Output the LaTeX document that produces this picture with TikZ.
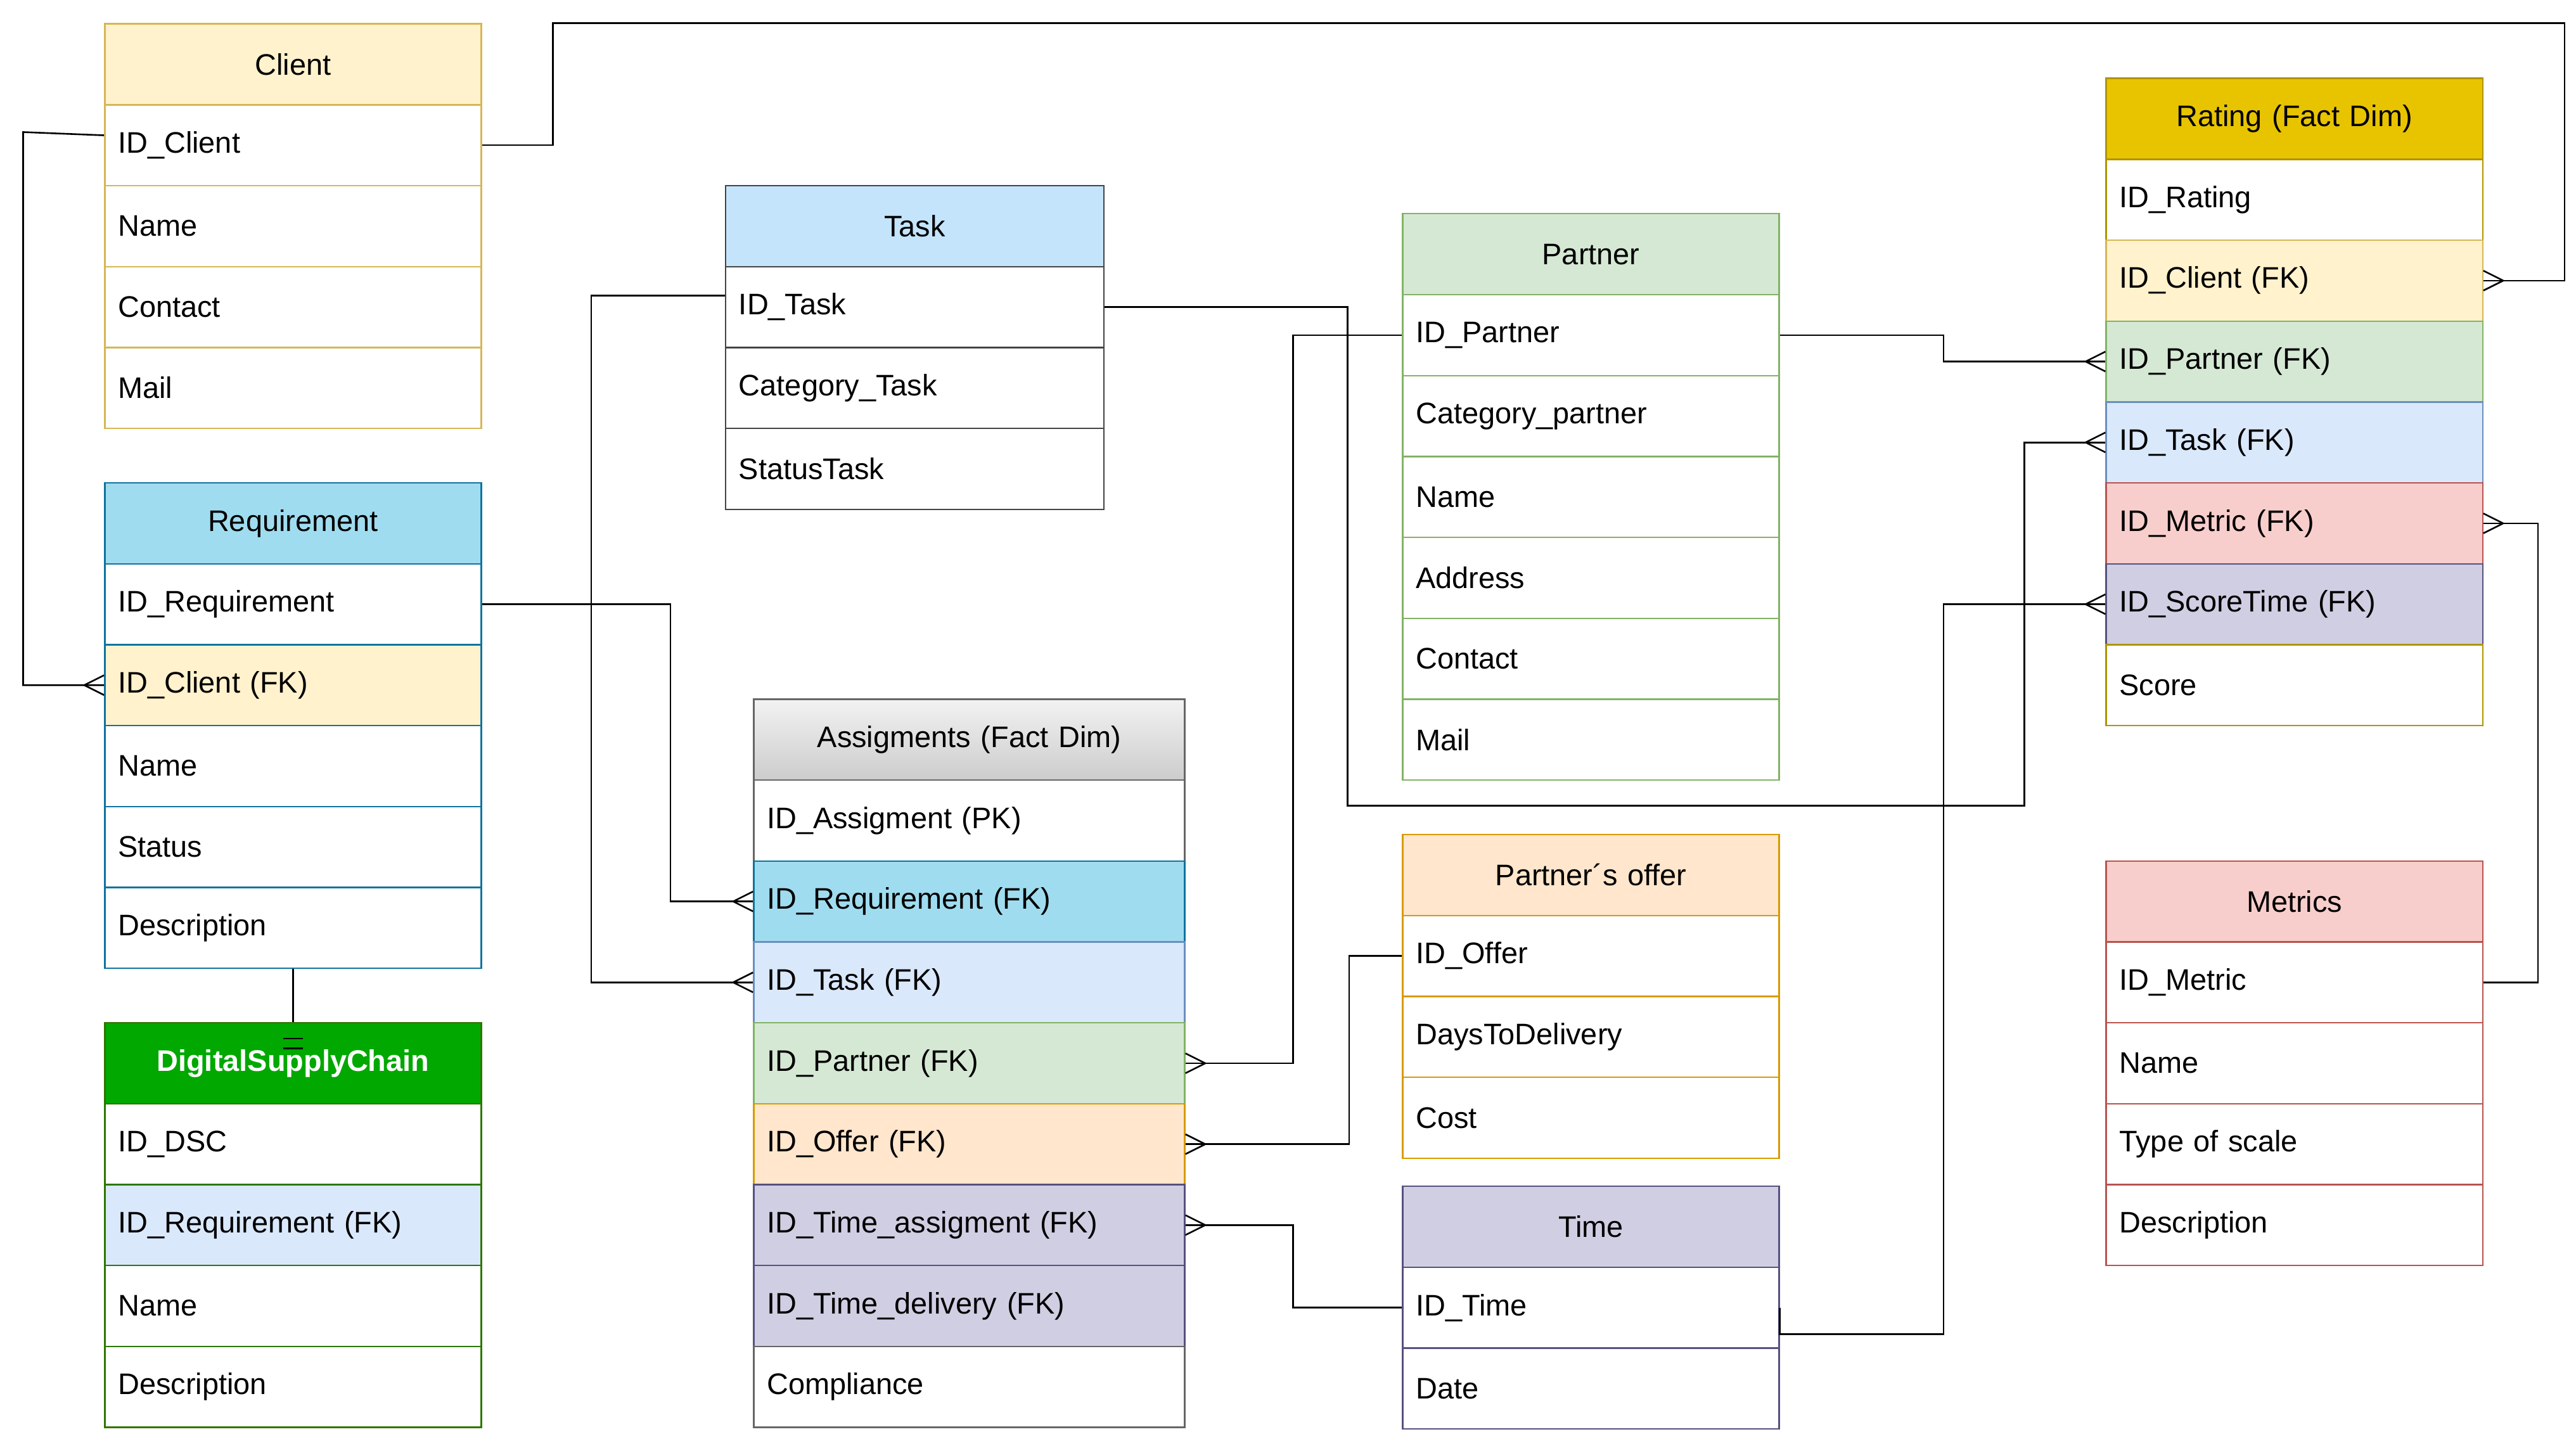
\documentclass[tikz,border=0pt]{standalone}
\usepackage{fontspec}
\setmainfont{Liberation Sans}
\begin{document}
\begin{tikzpicture}[x=1pt,y=-1pt,
  cell/.style={anchor=north west,minimum height=49pt,inner xsep=8pt,text width=#1,align=left,line width=0.9pt,font=\fontsize{18}{20}\selectfont},
  head/.style={align=center},
  conn/.style={line width=1pt,black}]
\definecolor{yf}{HTML}{FFF2CC}\definecolor{ys}{HTML}{D6B656}
\definecolor{bf}{HTML}{A0DCEF}\definecolor{bs}{HTML}{10739E}
\definecolor{lbf}{HTML}{DAE8FC}\definecolor{lbs}{HTML}{6C8EBF}
\definecolor{tf}{HTML}{C4E4FB}\definecolor{ts}{HTML}{444444}
\definecolor{gf}{HTML}{D5E8D4}\definecolor{gs}{HTML}{82B366}
\definecolor{of}{HTML}{FFE6CC}\definecolor{os}{HTML}{D79B00}
\definecolor{pf}{HTML}{D0CEE2}\definecolor{ps}{HTML}{56517E}
\definecolor{rf}{HTML}{F8CECC}\definecolor{rs}{HTML}{B85450}
\definecolor{dgf}{HTML}{00A800}\definecolor{dgs}{HTML}{2D7600}
\definecolor{kf}{HTML}{E8C400}\definecolor{ks}{HTML}{B09500}
\definecolor{af}{HTML}{D8D8D8}\definecolor{as}{HTML}{666666}
\newcommand\cell[8][]{\node[cell=#5pt-16pt,fill=#6,draw=#7,#1] (#2) at (#3,#4) {#8};}
\useasboundingbox[fill=white] (0,0) rectangle (1560,875.4);
% Client
\cell[head]{cl0}{63}{14}{228}{yf}{ys}{Client}
\cell{cl1}{63}{63}{228}{white}{ys}{ID\_Client}
\cell{cl2}{63}{112}{228}{white}{ys}{Name}
\cell{cl3}{63}{161}{228}{white}{ys}{Contact}
\cell{cl4}{63}{210}{228}{white}{ys}{Mail}
% Requirement
\cell[head]{rq0}{63}{292}{228}{bf}{bs}{Requirement}
\cell{rq1}{63}{341}{228}{white}{bs}{ID\_Requirement}
\cell{rq2}{63}{390}{228}{yf}{bs}{ID\_Client (FK)}
\cell{rq3}{63}{439}{228}{white}{bs}{Name}
\cell{rq4}{63}{488}{228}{white}{bs}{Status}
\cell{rq5}{63}{537}{228}{white}{bs}{Description}
% DSC
\cell[head,text=white,font=\fontsize{18}{20}\selectfont\bfseries]{ds0}{63}{619}{228}{dgf}{dgs}{DigitalSupplyChain}
\cell{ds1}{63}{668}{228}{white}{dgs}{ID\_DSC}
\cell{ds2}{63}{717}{228}{lbf}{dgs}{ID\_Requirement (FK)}
\cell{ds3}{63}{766}{228}{white}{dgs}{Name}
\cell{ds4}{63}{815}{228}{white}{dgs}{Description}
% Task
\cell[head]{ta0}{439}{112}{229}{tf}{ts}{Task}
\cell{ta1}{439}{161}{229}{white}{ts}{ID\_Task}
\cell{ta2}{439}{210}{229}{white}{ts}{Category\_Task}
\cell{ta3}{439}{259}{229}{white}{ts}{StatusTask}
% Assigments
\cell[head,top color=gray!10,bottom color=gray!40]{as0}{456}{423}{261}{af}{as}{Assigments (Fact Dim)}
\cell{as1}{456}{472}{261}{white}{as}{ID\_Assigment (PK)}
\cell{as2}{456}{521}{261}{bf}{bs}{ID\_Requirement (FK)}
\cell{as3}{456}{570}{261}{lbf}{lbs}{ID\_Task (FK)}
\cell{as4}{456}{619}{261}{gf}{gs}{ID\_Partner (FK)}
\cell{as5}{456}{668}{261}{of}{os}{ID\_Offer (FK)}
\cell{as6}{456}{717}{261}{pf}{ps}{ID\_Time\_assigment (FK)}
\cell{as7}{456}{766}{261}{pf}{ps}{ID\_Time\_delivery (FK)}
\cell{as8}{456}{815}{261}{white}{as}{Compliance}
% Partner
\cell[head]{pa0}{849}{129}{228}{gf}{gs}{Partner}
\cell{pa1}{849}{178}{228}{white}{gs}{ID\_Partner}
\cell{pa2}{849}{227}{228}{white}{gs}{Category\_partner}
\cell{pa3}{849}{276}{228}{white}{gs}{Name}
\cell{pa4}{849}{325}{228}{white}{gs}{Address}
\cell{pa5}{849}{374}{228}{white}{gs}{Contact}
\cell{pa6}{849}{423}{228}{white}{gs}{Mail}
% Offer
\cell[head]{of0}{849}{505}{228}{of}{os}{Partner´s offer}
\cell{of1}{849}{554}{228}{white}{os}{ID\_Offer}
\cell{of2}{849}{603}{228}{white}{os}{DaysToDelivery}
\cell{of3}{849}{652}{228}{white}{os}{Cost}
% Time
\cell[head]{ti0}{849}{718}{228}{pf}{ps}{Time}
\cell{ti1}{849}{767}{228}{white}{ps}{ID\_Time}
\cell{ti2}{849}{816}{228}{white}{ps}{Date}
% Rating
\cell[head]{ra0}{1275}{47}{228}{kf}{ks}{Rating (Fact Dim)}
\cell{ra1}{1275}{96}{228}{white}{ks}{ID\_Rating}
\cell{ra2}{1275}{145}{228}{yf}{ys}{ID\_Client (FK)}
\cell{ra3}{1275}{194}{228}{gf}{gs}{ID\_Partner (FK)}
\cell{ra4}{1275}{243}{228}{lbf}{lbs}{ID\_Task (FK)}
\cell{ra5}{1275}{292}{228}{rf}{rs}{ID\_Metric (FK)}
\cell{ra6}{1275}{341}{228}{pf}{ps}{ID\_ScoreTime (FK)}
\cell{ra7}{1275}{390}{228}{white}{ks}{Score}
% Metrics
\cell[head]{me0}{1275}{521}{228}{rf}{rs}{Metrics}
\cell{me1}{1275}{570}{228}{white}{rs}{ID\_Metric}
\cell{me2}{1275}{619}{228}{white}{rs}{Name}
\cell{me3}{1275}{668}{228}{white}{rs}{Type of scale}
\cell{me4}{1275}{717}{228}{white}{rs}{Description}
% crow's foot macro
\newcommand\crow[2]{\begin{scope}[shift={(#1)},xscale=#2]\draw[conn] (12,0)--(0,6) (12,0)--(0,-6);\end{scope}}
% connectors
\draw[conn] (cl1.east) -- ++(43,0) |- (1553,14) |- (ra2.east); \crow{ra2.east}{1}
\draw[conn] ([yshift=6pt]cl1.west) -- (14,80) |- (rq2.west); \crow{rq2.west}{-1}
\draw[conn] (rq1.east) -| (406,500) |- (as2.west); \crow{as2.west}{-1}
\draw[conn] ([yshift=7pt]ta1.west) -| (358,500) |- (as3.west); \crow{as3.west}{-1}
\draw[conn] (ta1.east) -| (816,488) -| (1226,300) |- (ra4.west); \crow{ra4.west}{-1}
\draw[conn] (pa1.west) -| (783,500) |- (as4.east); \crow{as4.east}{1}
\draw[conn] (pa1.east) -| (1177,210) |- (ra3.west); \crow{ra3.west}{-1}
\draw[conn] (of1.west) -| (817,650) |- (as5.east); \crow{as5.east}{1}
\draw[conn] (ti1.west) -| (783,760) |- (as6.east); \crow{as6.east}{1}
\draw[conn] (ti1.east) |- (1177,808) |- (ra6.west); \crow{ra6.west}{-1}
\draw[conn] (me1.east) -| (1537,400) |- (ra5.east); \crow{ra5.east}{1}
\draw[conn] (rq5.south) -- (ds0.north);
\draw[conn] ([xshift=-6pt,yshift=-10pt]ds0.north) -- ++(12,0);
\draw[conn] ([xshift=-6pt,yshift=-16pt]ds0.north) -- ++(12,0);
\end{tikzpicture}
\end{document}
